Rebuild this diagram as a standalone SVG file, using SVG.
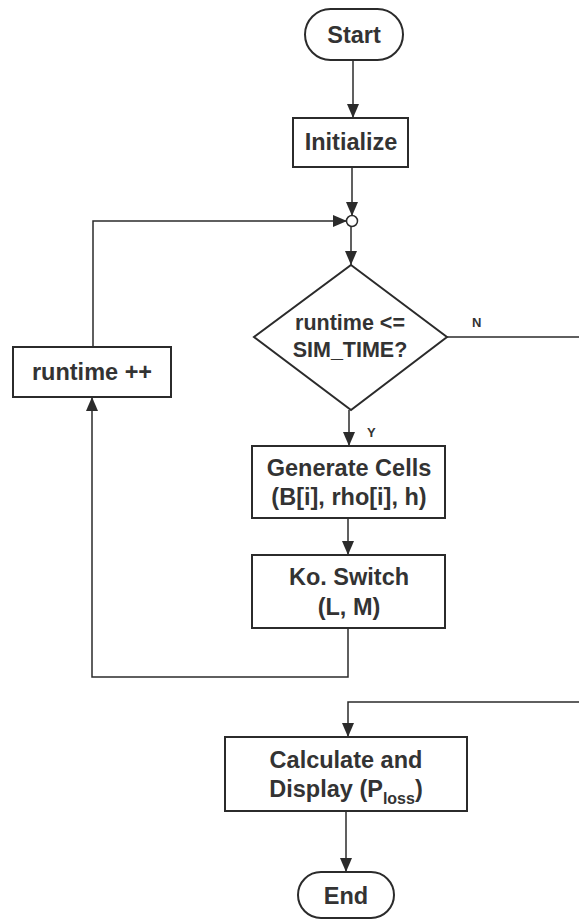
<svg xmlns="http://www.w3.org/2000/svg" width="579" height="920" viewBox="0 0 579 920">
<defs>
<marker id="ah" markerWidth="14" markerHeight="14" refX="14" refY="7" orient="auto" markerUnits="userSpaceOnUse">
<path d="M0,1 L14,7 L0,13 Z" fill="#2b2b2b"/>
</marker>
</defs>
<style>
.box{fill:#fff;stroke:#2b2b2b;stroke-width:2}
.t{font-family:"Liberation Sans",Arial,sans-serif;font-weight:bold;font-size:23.5px;fill:#333;text-anchor:middle}
.d{font-size:21.5px}
.lbl{font-family:"Liberation Sans",Arial,sans-serif;font-weight:bold;font-size:13px;fill:#333}
.c{fill:none;stroke:#2b2b2b;stroke-width:1.5}
</style>
<rect width="579" height="920" fill="#fff"/>
<g id="connectors">
<path class="c" d="M353,60 V118" marker-end="url(#ah)"/>
<path class="c" d="M352,167 V216" marker-end="url(#ah)"/>
<path class="c" d="M351,226 V265" marker-end="url(#ah)"/>
<path class="c" d="M349,410 V446" marker-end="url(#ah)"/>
<path class="c" d="M348,518 V555" marker-end="url(#ah)"/>
<path class="c" d="M348,628 V677 H92 V397" marker-end="url(#ah)"/>
<path class="c" d="M93,347 V221 H347" marker-end="url(#ah)"/>
<path class="c" d="M447,337 H590 V702 H348 V737" marker-end="url(#ah)"/>
<path class="c" d="M346,811 V872" marker-end="url(#ah)"/>
<text class="lbl" x="472" y="327">N</text>
<text class="lbl" x="367" y="437">Y</text>
</g>
<g id="start">
<rect class="box" x="305" y="9" width="98" height="51" rx="25.5"/>
<text class="t" x="354" y="43">Start</text>
</g>
<g id="initialize">
<rect class="box" x="293" y="118" width="115" height="49"/>
<text class="t" x="351" y="150">Initialize</text>
</g>
<g id="junction">
<circle cx="352" cy="221" r="5.5" fill="#fff" stroke="#2b2b2b" stroke-width="1.5"/>
</g>
<g id="decision">
<polygon class="box" points="351,265 447,337 351,410 254,337"/>
<text class="t d" x="350" y="330">runtime &lt;=</text>
<text class="t d" x="350" y="357">SIM_TIME?</text>
</g>
<g id="runtime-inc">
<rect class="box" x="13" y="347" width="158" height="50"/>
<text class="t" x="92" y="380">runtime ++</text>
</g>
<g id="generate">
<rect class="box" x="252" y="446" width="193" height="72"/>
<text class="t" x="349" y="476">Generate Cells</text>
<text class="t" x="349" y="505">(B[i], rho[i], h)</text>
</g>
<g id="switch">
<rect class="box" x="252" y="555" width="193" height="73"/>
<text class="t" x="349" y="585">Ko. Switch</text>
<text class="t" x="349" y="615">(L, M)</text>
</g>
<g id="calculate">
<rect class="box" x="225" y="737" width="242" height="74"/>
<text class="t" x="346" y="768">Calculate and</text>
<text class="t" x="346" y="797">Display (P<tspan font-size="16" dy="7">loss</tspan><tspan dy="-7">)</tspan></text>
</g>
<g id="end">
<rect class="box" x="298" y="872" width="96" height="46" rx="23"/>
<text class="t" x="346" y="904">End</text>
</g>
</svg>
